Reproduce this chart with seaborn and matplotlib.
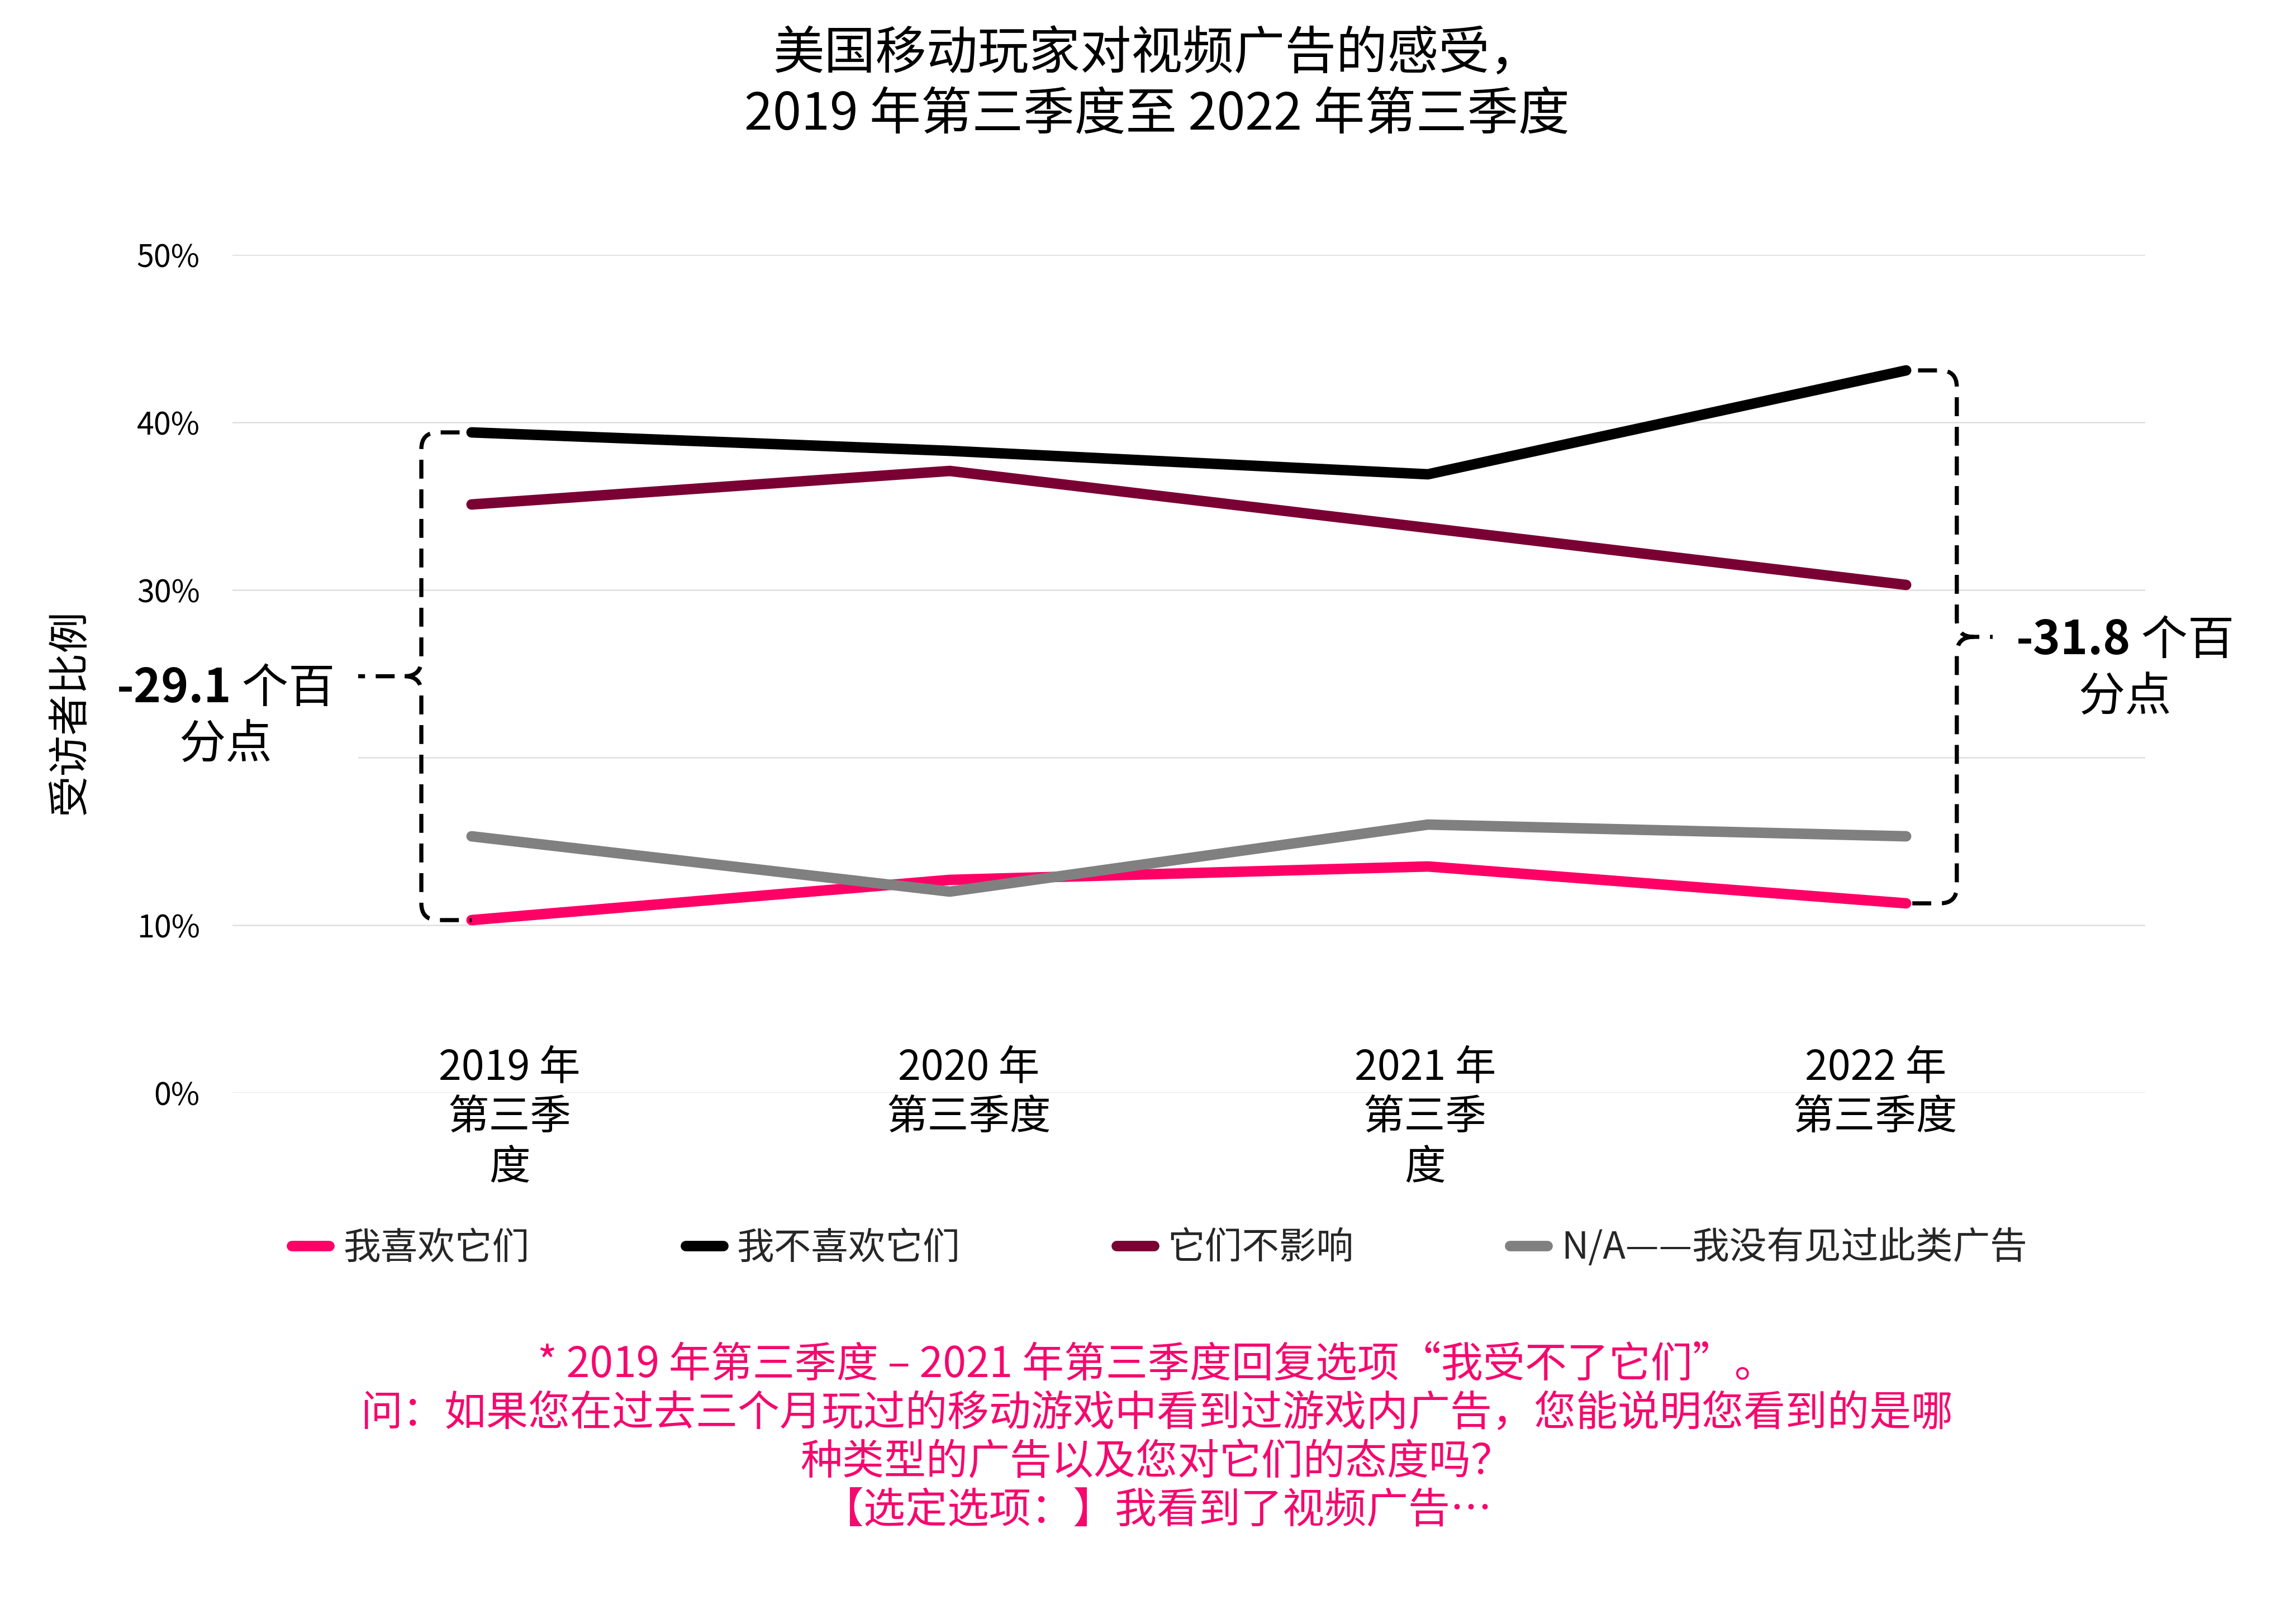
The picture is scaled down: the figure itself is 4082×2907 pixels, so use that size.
import numpy as np
import pandas as pd
import matplotlib
matplotlib.use("Agg")
import matplotlib.pyplot as plt
import matplotlib.transforms as mtransforms
import seaborn as sns
from matplotlib.path import Path
from matplotlib.patches import PathPatch
from matplotlib.offsetbox import TextArea, HPacker, VPacker, AnnotationBbox

# ---------------- data ----------------
categories = ["2019 年第三季度", "2020 年第三季度", "2021 年第三季度", "2022 年第三季度"]
tick_labels = ["2019 年\n第三季\n度", "2020 年\n第三季度", "2021 年\n第三季\n度", "2022 年\n第三季度"]
series_names = ["我喜欢它们", "我不喜欢它们", "它们不影响", "N/A——我没有见过此类广告"]
like = [10.3, 12.7, 13.5, 11.3]
dislike = [39.4, 38.3, 36.9, 43.1]
no_effect = [35.1, 37.1, 33.7, 30.3]
not_seen = [15.3, 12.0, 16.0, 15.3]
series_colors = ["#FF0066", "#000000", "#7A0033", "#808080"]
y_ticks = [0, 10, 20, 30, 40, 50]
y_tick_labels = ["0%", "10%", "", "30%", "40%", "50%"]  # 20% label is hidden under the annotation
gap_values = ["-29.1", "-31.8"]
gap_unit = ["个百", "分点"]

title = "美国移动玩家对视频广告的感受，\n2019 年第三季度至 2022 年第三季度"
y_label = "受访者比例"
footnote = ("* 2019 年第三季度 – 2021 年第三季度回复选项“我受不了它们”。\n"
            "问：如果您在过去三个月玩过的移动游戏中看到过游戏内广告，您能说明您看到的是哪\n"
            "种类型的广告以及您对它们的态度吗？\n"
            "【选定选项：】我看到了视频广告…")

# ---------------- style ----------------
sns.set_theme(style="whitegrid")
FAM = ["Noto Sans CJK SC", "DejaVu Sans"]
plt.rcParams["font.family"] = FAM
plt.rcParams["axes.unicode_minus"] = False

W, H = 4082, 2907
fig = plt.figure(figsize=(W / 100, H / 100), dpi=100)
ax = fig.add_axes([416 / W, 1 - 1956 / H, (3839 - 416) / W, (1956 - 456) / H])

all_series = [like, dislike, no_effect, not_seen]
for name, vals, col in zip(series_names, all_series, series_colors):
    sns.lineplot(x=categories, y=vals, ax=ax, color=col, linewidth=13.5,
                 label=name, sort=False, solid_capstyle="round",
                 solid_joinstyle="round", legend=False, zorder=3)

ax.set_xlim(-0.5, 3.5)
ax.set_ylim(0, 50)
ax.set_xticks(range(len(categories)))
ax.set_xticklabels(tick_labels, fontsize=53, linespacing=1.24, ha="center")
ax.set_yticks(y_ticks)
ax.set_yticklabels(y_tick_labels, fontsize=40)
ax.tick_params(axis="x", length=0, pad=-59, colors="black")
ax.tick_params(axis="y", length=0, pad=42, colors="black")
ax.xaxis.grid(False)
ax.yaxis.grid(True, color="#DEDEDE", linewidth=1.8)
for s in ax.spines.values():
    s.set_visible(False)
ax.set_xlabel("")
ax.set_ylabel("")
ax.set_facecolor("white")

# the category labels sit in evenly spaced text boxes, slightly off the points
label_shift_px = [68, 34, -5, -55]
for lab, dx in zip(ax.get_xticklabels(), label_shift_px):
    lab.set_transform(lab.get_transform() +
                      mtransforms.ScaledTranslation(dx / 100, 0, fig.dpi_scale_trans))


# ---------------- brackets ----------------
def brace(ax, xv, top, bottom, x_top_end, x_bot_end, direction, nub):
    rx, ry = 0.035, 1.0
    mid = (top + bottom) / 2.0
    s = -direction  # side toward the lines
    verts = [
        (x_top_end, top), (xv + s * rx, top),
        (xv, top), (xv, top - ry),
        (xv, mid + ry),
        (xv, mid), (xv + direction * rx, mid),
        (xv + direction * nub, mid),
        (xv + direction * rx, mid),
        (xv, mid), (xv, mid - ry),
        (xv, bottom + ry),
        (xv, bottom), (xv + s * rx, bottom),
        (x_bot_end, bottom),
    ]
    codes = [Path.MOVETO, Path.LINETO,
             Path.CURVE3, Path.CURVE3,
             Path.LINETO,
             Path.CURVE3, Path.CURVE3,
             Path.LINETO,
             Path.MOVETO,
             Path.CURVE3, Path.CURVE3,
             Path.LINETO,
             Path.CURVE3, Path.CURVE3,
             Path.LINETO]
    p = PathPatch(Path(verts, codes), facecolor="none", edgecolor="black",
                  linewidth=5.3, linestyle=(0, (4.6, 2.6)), clip_on=False,
                  zorder=4, capstyle="butt")
    ax.add_patch(p)
    return mid


mid_l = brace(ax, -0.105, dislike[0], like[0], -0.025, 0.0, -1, 0.225)
mid_r = brace(ax, 3.106, dislike[3], like[3], 3.025, 3.0, +1, 0.18)


def gap_label(ax, xy, value):
    l1 = HPacker(children=[
        TextArea(value, textprops=dict(fontsize=60, fontweight="bold", color="black", family=FAM)),
        TextArea(" " + gap_unit[0], textprops=dict(fontsize=60, color="black", family=FAM)),
    ], align="baseline", pad=0, sep=0)
    l2 = TextArea(gap_unit[1], textprops=dict(fontsize=60, color="black", family=FAM))
    box = VPacker(children=[l1, l2], align="center", pad=30, sep=10)
    ab = AnnotationBbox(box, xy, xycoords="data", frameon=True, pad=0,
                        bboxprops=dict(facecolor="white", edgecolor="none"),
                        box_alignment=(0.5, 0.5), annotation_clip=False, zorder=10)
    ax.add_artist(ab)


gap_label(ax, (-0.514, mid_l - 2.4), gap_values[0])
gap_label(ax, (3.458, mid_r - 1.9), gap_values[1])

# ---------------- texts ----------------
fig.text(2070 / W, 1 - 152 / H, title, ha="center", va="center", fontsize=66,
         linespacing=1.2, color="black")
fig.text(125 / W, 1 - 1275 / H, y_label, rotation=90, ha="center", va="center",
         fontsize=53, color="black")

handles, labels = ax.get_legend_handles_labels()
leg = fig.legend(handles, labels, loc="center", bbox_to_anchor=(2075 / W, 1 - 2234 / H),
                 ncol=4, frameon=False, fontsize=48, handlelength=1.0,
                 handletextpad=0.37, columnspacing=4.2)

fig.text(2070 / W, 1 - 2574 / H, footnote, ha="center", va="center", fontsize=54,
         color="#F5086E", linespacing=1.17, multialignment="center")

fig.savefig("out.png", dpi=100, facecolor="white")
